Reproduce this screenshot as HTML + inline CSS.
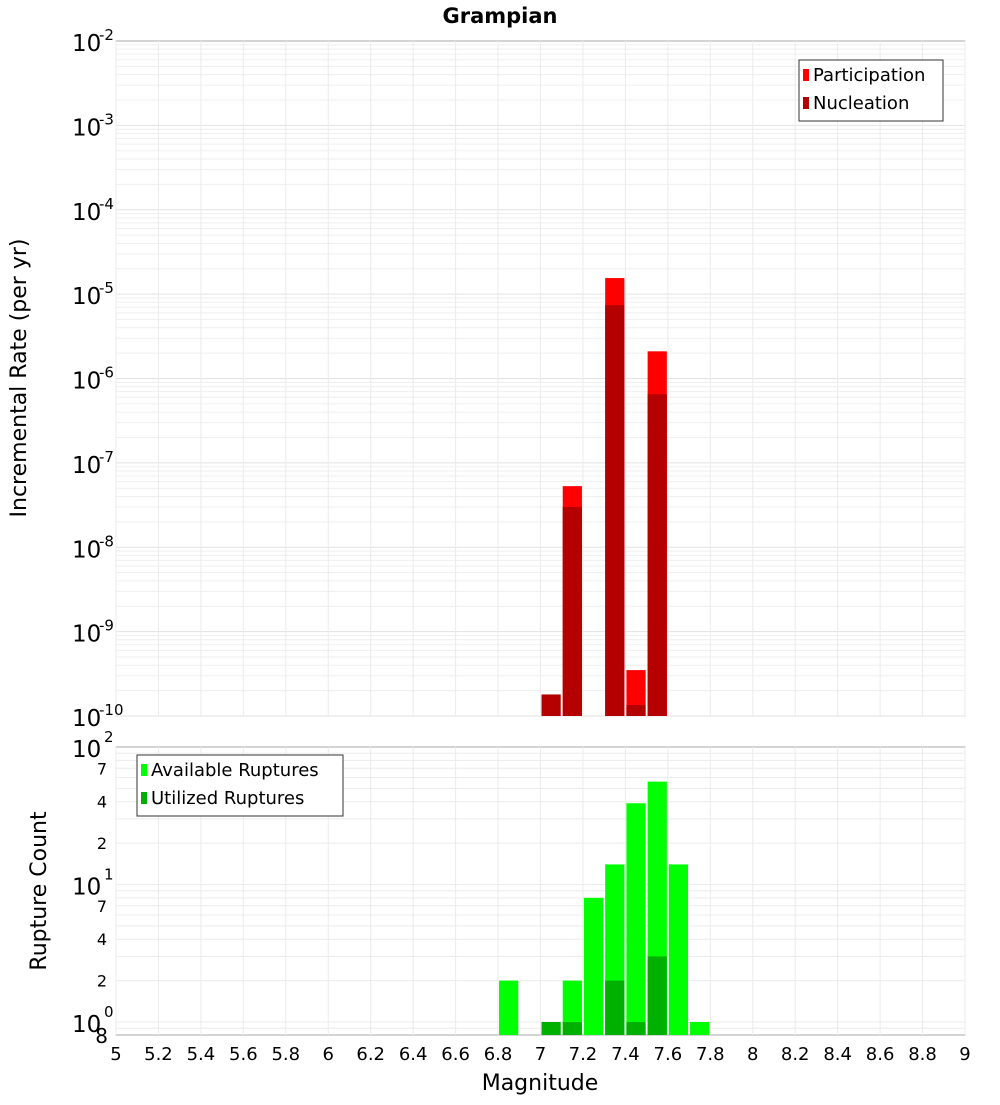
<!DOCTYPE html>
<html><head><meta charset="utf-8"><style>
body{margin:0;background:#fff;}
svg text{font-family:"DejaVu Sans","Liberation Sans",sans-serif;fill:#000;}
</style></head><body>
<svg id="c" width="1000" height="1100" xmlns="http://www.w3.org/2000/svg">
<text x="500" y="23" text-anchor="middle" font-size="21" font-weight="bold">Grampian</text>
<g id="topG"></g>
<g id="botG"></g>
<text transform="translate(26,378) rotate(-90)" text-anchor="middle" font-size="22">Incremental Rate (per yr)</text>
<text transform="translate(46,891) rotate(-90)" text-anchor="middle" font-size="22">Rupture Count</text>
<text x="540" y="1090" text-anchor="middle" font-size="22">Magnitude</text>
</svg>
<script>
const partMags=[7.1,7.3,7.4,7.5];
const partVals=[5.3e-8,1.55e-5,3.5e-10,2.1e-6];
const nuclMags=[7.0,7.1,7.3,7.4,7.5];
const nuclVals=[1.8e-10,3e-8,7.4e-6,1.35e-10,6.5e-7];
const availMags=[6.8,7.1,7.2,7.3,7.4,7.5,7.6,7.7];
const availVals=[2,2,8,14,39,56,14,1];
const utilMags=[7.0,7.1,7.3,7.4,7.5];
const utilVals=[1,1,2,1,3];
const xTicks=[5,5.2,5.4,5.6,5.8,6,6.2,6.4,6.6,6.8,7,7.2,7.4,7.6,7.8,8,8.2,8.4,8.6,8.8,9];
const topExps=[-2,-3,-4,-5,-6,-7,-8,-9,-10];
const botMinor=[2,4,7,20,40,70];

const NS="http://www.w3.org/2000/svg";
const L=116,R=965;
const X=m=>L+(m-5)*(R-L)/4;
const TT=41,TB=716;
const YT=v=>TT+(-2-Math.log10(v))*(TB-TT)/8;
const BT=747,BB=1035,DEC=137.5;
const YB=v=>BT+(2-Math.log10(v))*DEC;
function mk(p,tag,a){const e=document.createElementNS(NS,tag);for(const k in a)e.setAttribute(k,a[k]);p.appendChild(e);return e;}
const topG=document.getElementById('topG'),botG=document.getElementById('botG');

let r=mk(topG,'rect',{x:L,y:TT,width:R-L,height:TB-TT,fill:'#fff',stroke:'#aaa'});

for(let e=-10;e<-2;e++)for(let k=1;k<10;k++){const y=YT(k*Math.pow(10,e));if(y<TT||y>TB)continue;
 mk(topG,'line',{x1:L,x2:R,y1:y,y2:y,stroke:k==1?'#e2e2e2':'#efefef','stroke-width':1});}
xTicks.forEach(t=>{mk(topG,'line',{x1:X(t),x2:X(t),y1:TT,y2:TB,stroke:'#ebebeb'});});
r=mk(botG,'rect',{x:L,y:BT,width:R-L,height:BB-BT,fill:'#fff',stroke:'#aaa'});

for(let e=-1;e<2;e++)for(let k=1;k<10;k++){const y=YB(k*Math.pow(10,e));if(y<BT||y>BB)continue;
 mk(botG,'line',{x1:L,x2:R,y1:y,y2:y,stroke:'#ececec'});}
xTicks.forEach(t=>{mk(botG,'line',{x1:X(t),x2:X(t),y1:BT,y2:BB,stroke:'#ebebeb'});});

function bars(g,mags,vals,Y,base,color,name){
 mags.forEach((m,i)=>{const x=X(m)+1,w=X(m+0.1)-X(m)-2,y=Y(vals[i]);
  const b=mk(g,'rect',{x:x,y:y,width:w,height:base-y,fill:color});
  
  });
}
bars(topG,partMags,partVals,YT,TB,'#ff0000','participation-bar');
bars(topG,nuclMags,nuclVals,YT,TB,'#b40000','nucleation-bar');
bars(botG,availMags,availVals,YB,BB,'#00ff00','available-bar');
bars(botG,utilMags,utilVals,YB,BB,'#00b000','utilized-bar');

topExps.forEach(e=>{const y=YT(Math.pow(10,e));
 const t=mk(topG,'text',{x:72,y:y+10,'font-size':23});t.textContent='10';
 
 const s=mk(topG,'text',{x:99,y:y-1,'font-size':15});s.textContent=String(e);
 });
[[100,'2'],[10,'1'],[1,'0']].forEach(([v,e])=>{const y=YB(v);
 const t=mk(botG,'text',{x:72,y:y+10,'font-size':23});t.textContent='10';
 
 const s=mk(botG,'text',{x:104,y:y-5,'font-size':15});s.textContent=e;
 });
botMinor.forEach(v=>{const y=YB(v);const t=mk(botG,'text',{x:107,y:y+6,'font-size':16,'text-anchor':'end'});t.textContent=String(v).charAt(0);
 });
let t8=mk(botG,'text',{x:108,y:BB+8,'font-size':20,'text-anchor':'end'});t8.textContent='8';

xTicks.forEach(v=>{const t=mk(botG,'text',{x:X(v),y:1060,'font-size':18,'text-anchor':'middle'});t.textContent=String(v);
 });

function legend(g,x,y,w,items,name){
 const lg=mk(g,'g',{});
 mk(lg,'rect',{x:x,y:y,width:w,height:items.length*28+5,fill:'#fff',stroke:'#333'});
 items.forEach(([c,l],i)=>{mk(lg,'rect',{x:x+4,y:y+9+i*28,width:6,height:12,fill:c});
  const t=mk(lg,'text',{x:x+14,y:y+21+i*28,'font-size':18});t.textContent=l;
  });
}
legend(topG,799,60,144,[['#ff0000','Participation'],['#b40000','Nucleation']],'rate-legend');
legend(botG,137,755,206,[['#00ff00','Available Ruptures'],['#00b000','Utilized Ruptures']],'count-legend');
</script>
</body></html>
